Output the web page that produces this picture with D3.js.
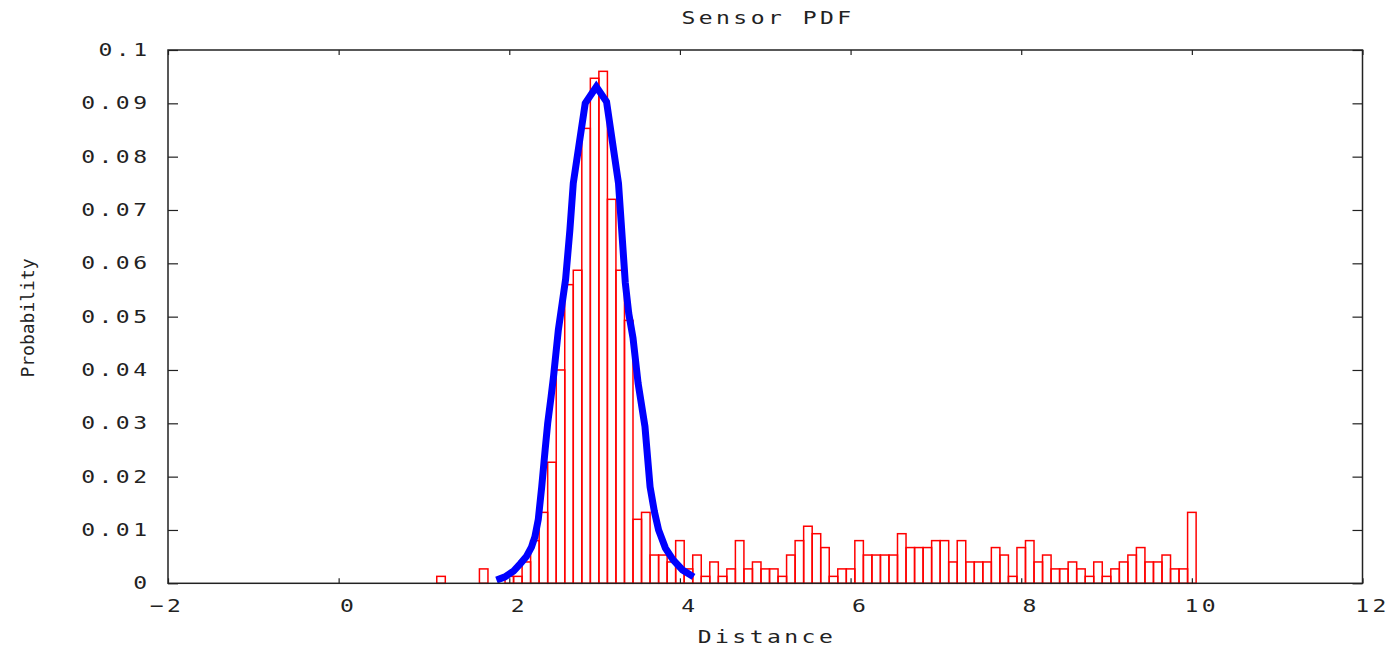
<html>
<head>
    <title>Sensor PDF</title>
    <style>
        body {
            margin: 0;
            background: #fff;
        }

        text {
            font-family: "DejaVu Sans Mono", monospace;
            fill: #222;
        }
    </style>
</head>

<body>
    <script src="https://d3js.org/d3.v7.min.js"></script>
    <script>
        // histogram bins (bin centre, width 0.1) and probability per bin
        var binCenters = [1.2, 1.7, 2.0, 2.1, 2.2, 2.3, 2.4, 2.5, 2.6, 2.7, 2.8, 2.9, 3.0, 3.1, 3.2, 3.3, 3.4, 3.5, 3.6,
            3.7, 3.8, 3.9, 4.0, 4.1, 4.2, 4.3, 4.4, 4.5, 4.6, 4.7, 4.8, 4.9, 5.0, 5.1, 5.2, 5.3, 5.4, 5.5, 5.6, 5.7, 5.8, 5.9,
            6.0, 6.1, 6.2, 6.3, 6.4, 6.5, 6.6, 6.7, 6.8, 6.9, 7.0, 7.1, 7.2, 7.3, 7.4, 7.5, 7.6, 7.7, 7.8, 7.9,
            8.0, 8.1, 8.2, 8.3, 8.4, 8.5, 8.6, 8.7, 8.8, 8.9, 9.0, 9.1, 9.2, 9.3, 9.4, 9.5, 9.6, 9.7, 9.8, 9.9, 10.0];
        var binProb = [0.0013, 0.0027, 0.0013, 0.0013, 0.004, 0.008, 0.0133, 0.0227, 0.04, 0.056, 0.0587, 0.0853, 0.0947, 0.096, 0.072, 0.0587, 0.0493, 0.012, 0.0133,
            0.0053, 0.0053, 0.004, 0.008, 0.0027, 0.0053, 0.0013, 0.004, 0.0013, 0.0027, 0.008, 0.0027, 0.004, 0.0027, 0.0027, 0.0013, 0.0053, 0.008, 0.0107, 0.0093, 0.0067, 0.0013, 0.0027,
            0.0027, 0.008, 0.0053, 0.0053, 0.0053, 0.0053, 0.0093, 0.0067, 0.0067, 0.0067, 0.008, 0.008, 0.004, 0.008, 0.004, 0.004, 0.004, 0.0067, 0.0053, 0.0013,
            0.0067, 0.008, 0.004, 0.0053, 0.0027, 0.0027, 0.004, 0.0027, 0.0013, 0.004, 0.0013, 0.0027, 0.004, 0.0053, 0.0067, 0.004, 0.004, 0.0053, 0.0027, 0.0027, 0.0133];

        // fitted curve
        var fitX = [1.85, 1.95, 2.05, 2.13, 2.2, 2.26, 2.30, 2.34, 2.38, 2.42, 2.45, 2.49, 2.52, 2.575, 2.62, 2.66, 2.71, 2.75, 2.89, 3.02, 3.14,
            3.28, 3.36, 3.40, 3.45, 3.51, 3.59, 3.65, 3.70, 3.75, 3.83, 3.92, 4.03, 4.16];
        var fitY = [0.0006, 0.0012, 0.0023, 0.0037, 0.005, 0.0068, 0.0087, 0.012, 0.0181, 0.025, 0.030, 0.035, 0.039, 0.0475, 0.0525, 0.0570, 0.0662, 0.0750, 0.0900, 0.0931, 0.0903,
            0.0750, 0.0563, 0.0506, 0.0460, 0.0375, 0.0294, 0.0181, 0.0135, 0.0100, 0.0066, 0.0044, 0.0025, 0.0012];

        var xTicks = [-2, 0, 2, 4, 6, 8, 10, 12];
        var yTicks = [0, 0.01, 0.02, 0.03, 0.04, 0.05, 0.06, 0.07, 0.08, 0.09, 0.1];

        var w = 1398,
            h = 647;
        var pLeft = 168, pRight = 1362.5, pTop = 50, pBottom = 583.3;
        var sx = 1.28; // gnuplot glyphs are wide

        var svg = d3.select('body').append('svg')
            .attr('width', w).attr('height', h);

        var x = d3.scaleLinear().domain([-2, 12]).range([pLeft, pRight]);
        var y = d3.scaleLinear().domain([0, 0.1]).range([pBottom, pTop]);

        // bars
        var bw = x(0.1) - x(0);
        svg.append('g').selectAll('rect')
            .data(binCenters)
            .enter().append('rect')
            .attr('x', function (d) { return x(d - 0.05); })
            .attr('y', function (d, i) { return y(binProb[i]); })
            .attr('width', bw)
            .attr('height', function (d, i) { return pBottom - y(binProb[i]); })
            .attr('fill', 'none')
            .attr('stroke', '#ff0000')
            .attr('stroke-width', 1.5);

        // fit line
        var line = d3.line()
            .x(function (d) { return x(d); })
            .y(function (d, i) { return y(fitY[i]); });

        svg.append('path')
            .attr('d', line(fitX))
            .attr('fill', 'none')
            .attr('stroke', '#0000ff')
            .attr('stroke-width', 7)
            .attr('stroke-linejoin', 'miter');

        // axes: ticks inward on all four sides
        svg.append('g').attr('transform', 'translate(0,' + pBottom + ')')
            .call(d3.axisBottom(x).tickValues(xTicks).tickSizeInner(-5).tickSizeOuter(0).tickFormat(''));
        svg.append('g').attr('transform', 'translate(0,' + pTop + ')')
            .call(d3.axisTop(x).tickValues(xTicks).tickSizeInner(-5).tickSizeOuter(0).tickFormat(''));
        svg.append('g').attr('transform', 'translate(' + pLeft + ',0)')
            .call(d3.axisLeft(y).tickValues(yTicks).tickSizeInner(-10).tickSizeOuter(0).tickFormat(''));
        svg.append('g').attr('transform', 'translate(' + pRight + ',0)')
            .call(d3.axisRight(y).tickValues(yTicks).tickSizeInner(-10).tickSizeOuter(0).tickFormat(''));

        svg.selectAll('.domain').remove();
        svg.selectAll('.tick line').attr('stroke', '#222').attr('stroke-width', 1.2);

        svg.append('rect')
            .attr('x', pLeft).attr('y', pTop)
            .attr('width', pRight - pLeft).attr('height', pBottom - pTop)
            .attr('fill', 'none').attr('stroke', '#222').attr('stroke-width', 1.5);

        // wide text: translate then stretch horizontally
        function wideText(sel, px, py, anchor, str) {
            sel.append('text')
                .attr('transform', 'translate(' + px + ',' + py + ') scale(' + sx + ',1)')
                .attr('text-anchor', anchor)
                .attr('dominant-baseline', 'central')
                .style('font-size', '18px')
                .style('letter-spacing', '2.7px')
                .text(str);
        }

        // tick labels
        var gx = svg.append('g');
        xTicks.forEach(function (d) {
            var lbl = d < 0 ? '\u2212' + Math.abs(d) : '' + d;
            wideText(gx, x(d) + 10 + (d < 0 ? -11 : 0), 606, 'middle', lbl);
        });

        var gy = svg.append('g');
        yTicks.forEach(function (d) {
            wideText(gy, 150.5, y(d), 'end', d3.format('~g')(d));
        });

        // titles
        wideText(svg, 768, 18, 'middle', 'Sensor PDF');
        wideText(svg, 767, 637, 'middle', 'Distance');

        svg.append('text')
            .attr('transform', 'translate(27,318) rotate(-90)')
            .attr('text-anchor', 'middle')
            .attr('dominant-baseline', 'central')
            .style('font-size', '18px')
            .text('Probability');
    </script>
</body>

</html>
